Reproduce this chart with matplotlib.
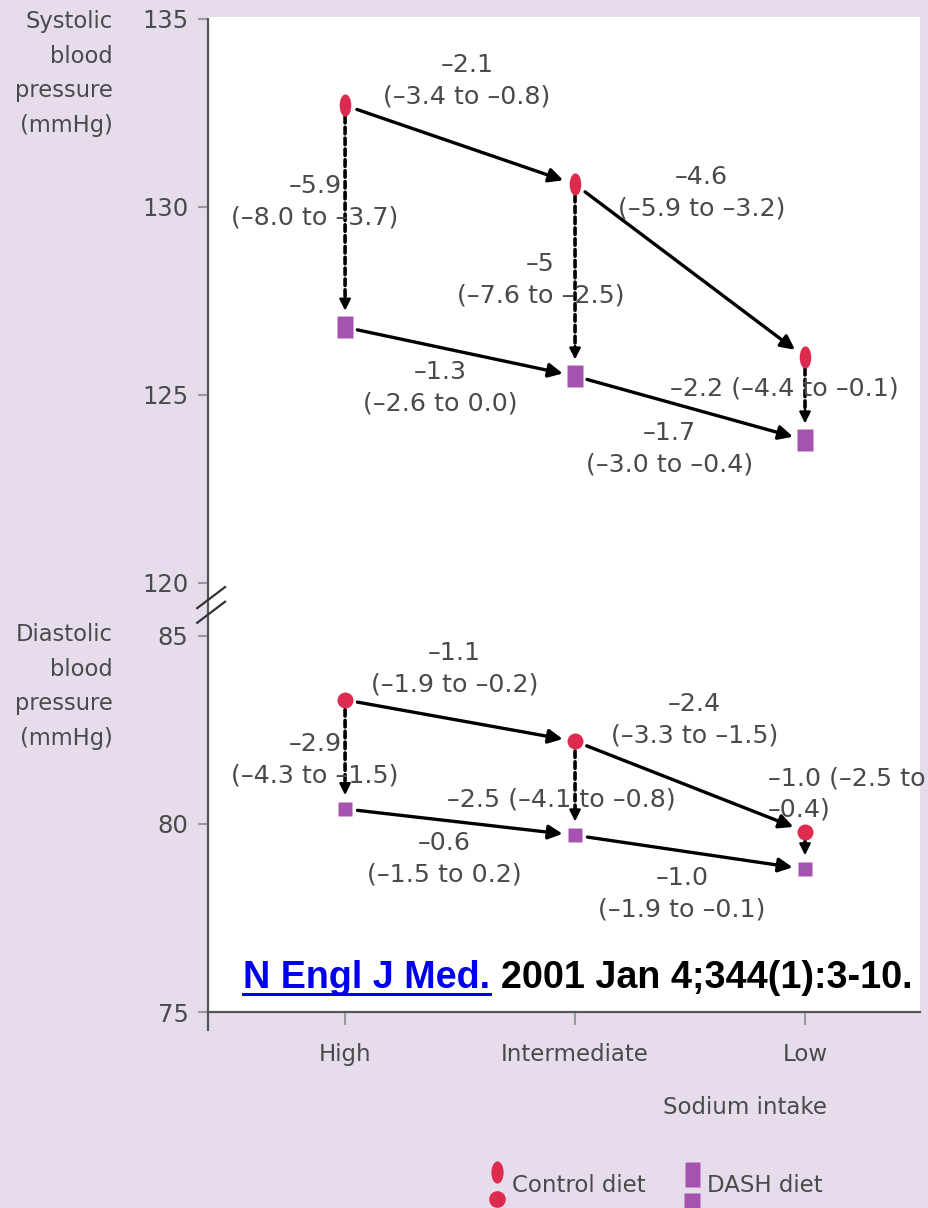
import numpy as np
import matplotlib.pyplot as plt
from matplotlib.markers import MarkerStyle
from matplotlib.transforms import Affine2D
from matplotlib.lines import Line2D

plt.rcParams['font.family'] = ['DejaVu Sans']

BG = '#e7dcec'
RED = '#df2a4f'
PURPLE = '#a653b0'
GREY = '#4a4a4a'

# data (mmHg)
sodium = ['High', 'Intermediate', 'Low']
sys_control = [132.7, 130.6, 126.0]
sys_dash = [126.8, 125.5, 123.8]
dia_control = [83.3, 82.2, 79.8]
dia_dash = [80.4, 79.7, 78.8]

sys_ticks = [135, 130, 125, 120]
dia_ticks = [85, 80, 75]

# difference labels: text, x (category units), y (mmHg), alignment
sys_labels = [
    ('–2.1\n(–3.4 to –0.8)', 0.53, 133.35, 'center'),
    ('–4.6\n(–5.9 to –3.2)', 1.55, 130.37, 'center'),
    ('–5.9\n(–8.0 to –3.7)', -0.13, 130.13, 'center'),
    ('–5\n(–7.6 to –2.5)', 0.85, 128.07, 'center'),
    ('–1.3\n(–2.6 to 0.0)', 0.415, 125.2, 'center'),
    ('–2.2 (–4.4 to –0.1)', 1.91, 125.17, 'center'),
    ('–1.7\n(–3.0 to –0.4)', 1.41, 123.57, 'center'),
]
dia_labels = [
    ('–1.1\n(–1.9 to –0.2)', 0.475, 84.12, 'center'),
    ('–2.4\n(–3.3 to –1.5)', 1.52, 82.77, 'center'),
    ('–2.9\n(–4.3 to –1.5)', -0.13, 81.7, 'center'),
    ('–2.5 (–4.1 to –0.8)', 0.94, 80.64, 'center'),
    ('–1.0 (–2.5 to\n–0.4)', 1.84, 80.8, 'left'),
    ('–0.6\n(–1.5 to 0.2)', 0.43, 79.07, 'center'),
    ('–1.0\n(–1.9 to –0.1)', 1.465, 78.14, 'center'),
]

# systolic panel is shifted down so it sits on top of the diastolic one
SYS_OFF = 33.59

fig = plt.figure(figsize=(9.29, 12.08), dpi=100, facecolor=BG)
ax = fig.add_axes([208 / 929, 1 - 1012 / 1208, (920 - 208) / 929, (1012 - 17) / 1208])
ax.set_facecolor('white')
x = np.arange(len(sodium))
ax.set_xlim(-0.596, 2.5)
ax.set_ylim(75, 101.46)

ellipse = MarkerStyle('o', transform=Affine2D().scale(0.52, 1.0))
tall_sq = MarkerStyle('s', transform=Affine2D().scale(0.68, 1.0))


def panel(ctrl, dash, off, c_marker, c_ms, d_marker, d_ms, start_gap, tip_gap):
    c = np.array(ctrl) - off
    d = np.array(dash) - off
    ax.plot(x, c, ls='none', marker=c_marker, ms=c_ms, color=RED, mec='none', zorder=4)
    ax.plot(x, d, ls='none', marker=d_marker, ms=d_ms, color=PURPLE, mec='none', zorder=4)
    # solid arrows along sodium levels
    for ys in (c, d):
        for i in range(len(x) - 1):
            ax.annotate('', xy=(x[i + 1], ys[i + 1]), xytext=(x[i], ys[i]),
                        arrowprops=dict(arrowstyle='-|>', color='black', lw=2.4,
                                        mutation_scale=21, shrinkA=9, shrinkB=9))
    # dashed arrows control -> DASH
    for i in range(len(x)):
        ax.annotate('', xy=(x[i], d[i]), xytext=(x[i], c[i]),
                    arrowprops=dict(arrowstyle='-', color='black', lw=2.6, ls=(0, (1.8, 1.2)),
                                    shrinkA=start_gap, shrinkB=tip_gap + 4))
        ax.annotate('', xy=(x[i], d[i]), xytext=(0, tip_gap + 10), textcoords='offset points',
                    arrowprops=dict(arrowstyle='-|>', color='black', lw=1.6,
                                    mutation_scale=17, shrinkA=0, shrinkB=tip_gap))


panel(sys_control, sys_dash, SYS_OFF, ellipse, 16, tall_sq, 16, 8, 12)
panel(dia_control, dia_dash, 0, 'o', 11.5, 's', 10.5, 7, 10)

for txt, lx, ly, ha in sys_labels:
    ax.text(lx, ly - SYS_OFF, txt, ha=ha, va='center', fontsize=18.3, color=GREY,
            multialignment=ha, linespacing=1.4)
for txt, lx, ly, ha in dia_labels:
    ax.text(lx, ly, txt, ha=ha, va='center', fontsize=18.3, color=GREY,
            multialignment=ha, linespacing=1.4)

# axes styling
ax.set_yticks([t - SYS_OFF for t in sys_ticks] + dia_ticks,
              [str(t) for t in sys_ticks + dia_ticks])
ax.set_xticks(x, sodium)
ax.tick_params(axis='y', direction='out', length=7, width=1.5, color='#999999',
               labelsize=17.5, labelcolor=GREY, pad=7)
ax.tick_params(axis='x', direction='out', length=9, width=1.5, color='#999999',
               labelsize=16.5, labelcolor=GREY, pad=13)
for s in ('top', 'right'):
    ax.spines[s].set_visible(False)
for s in ('left', 'bottom'):
    ax.spines[s].set_color('#555555')
    ax.spines[s].set_linewidth(1.6)
ax.spines['left'].set_bounds(74.52, 135 - SYS_OFF)

# axis break marks
for y0 in (85.35, 85.74):
    ax.plot([-0.643, -0.522], [y0, y0 + 0.56], color='#333333', lw=1.6, clip_on=False, zorder=5)

fig.text(113 / 929, 1 - 10 / 1208, 'Systolic\nblood\npressure\n(mmHg)', ha='right', va='top',
         fontsize=16.3, color=GREY, multialignment='right', linespacing=1.65)
fig.text(113 / 929, 1 - 623 / 1208, 'Diastolic\nblood\npressure\n(mmHg)', ha='right', va='top',
         fontsize=16.3, color=GREY, multialignment='right', linespacing=1.65)
fig.text(745 / 929, 1 - 1107 / 1208, 'Sodium intake', ha='center', va='center',
         fontsize=16.5, color=GREY)

# legend
lax = fig.add_axes([0, 0, 1, 1], facecolor='none')
lax.set_xlim(0, 929)
lax.set_ylim(1208, 0)
lax.axis('off')
lax.plot([497], [1172], marker=MarkerStyle('o', transform=Affine2D().scale(0.55, 1.0)),
         ms=16, color=RED, mec='none', clip_on=False)
lax.plot([497], [1199], marker='o', ms=12, color=RED, mec='none', clip_on=False)
lax.plot([692], [1174], marker=MarkerStyle('s', transform=Affine2D().scale(0.6, 1.0)),
         ms=18, color=PURPLE, mec='none', clip_on=False)
lax.plot([692], [1201], marker='s', ms=11, color=PURPLE, mec='none', clip_on=False)
lax.text(512, 1186, 'Control diet', ha='left', va='center', fontsize=16.5, color=GREY)
lax.text(707, 1186, 'DASH diet', ha='left', va='center', fontsize=16.5, color=GREY)

# citation
t1 = fig.text(243 / 929, 1 - 988 / 1208, 'N Engl J Med.', family='Liberation Sans',
              fontweight='bold', fontsize=27.2, color='#0000ee', va='baseline', ha='left')
t2 = ax.annotate('2001 Jan 4;344(1):3-10.', xy=(1, 0), xycoords=t1, xytext=(8, 0),
                 textcoords='offset points', family='Liberation Sans', fontweight='bold',
                 fontsize=27.2, color='black', va='bottom', ha='left', annotation_clip=False)
fig.canvas.draw()
bb = t1.get_window_extent(fig.canvas.get_renderer())
inv = fig.transFigure.inverted()
(ux0, uy), (ux1, _) = inv.transform([(bb.x0, bb.y0 + 2), (bb.x1, bb.y0 + 2)])
fig.add_artist(Line2D([ux0, ux1], [uy, uy], color='#0000ee', lw=2.2, transform=fig.transFigure))

fig.savefig('out.png', dpi=100, facecolor=BG)
